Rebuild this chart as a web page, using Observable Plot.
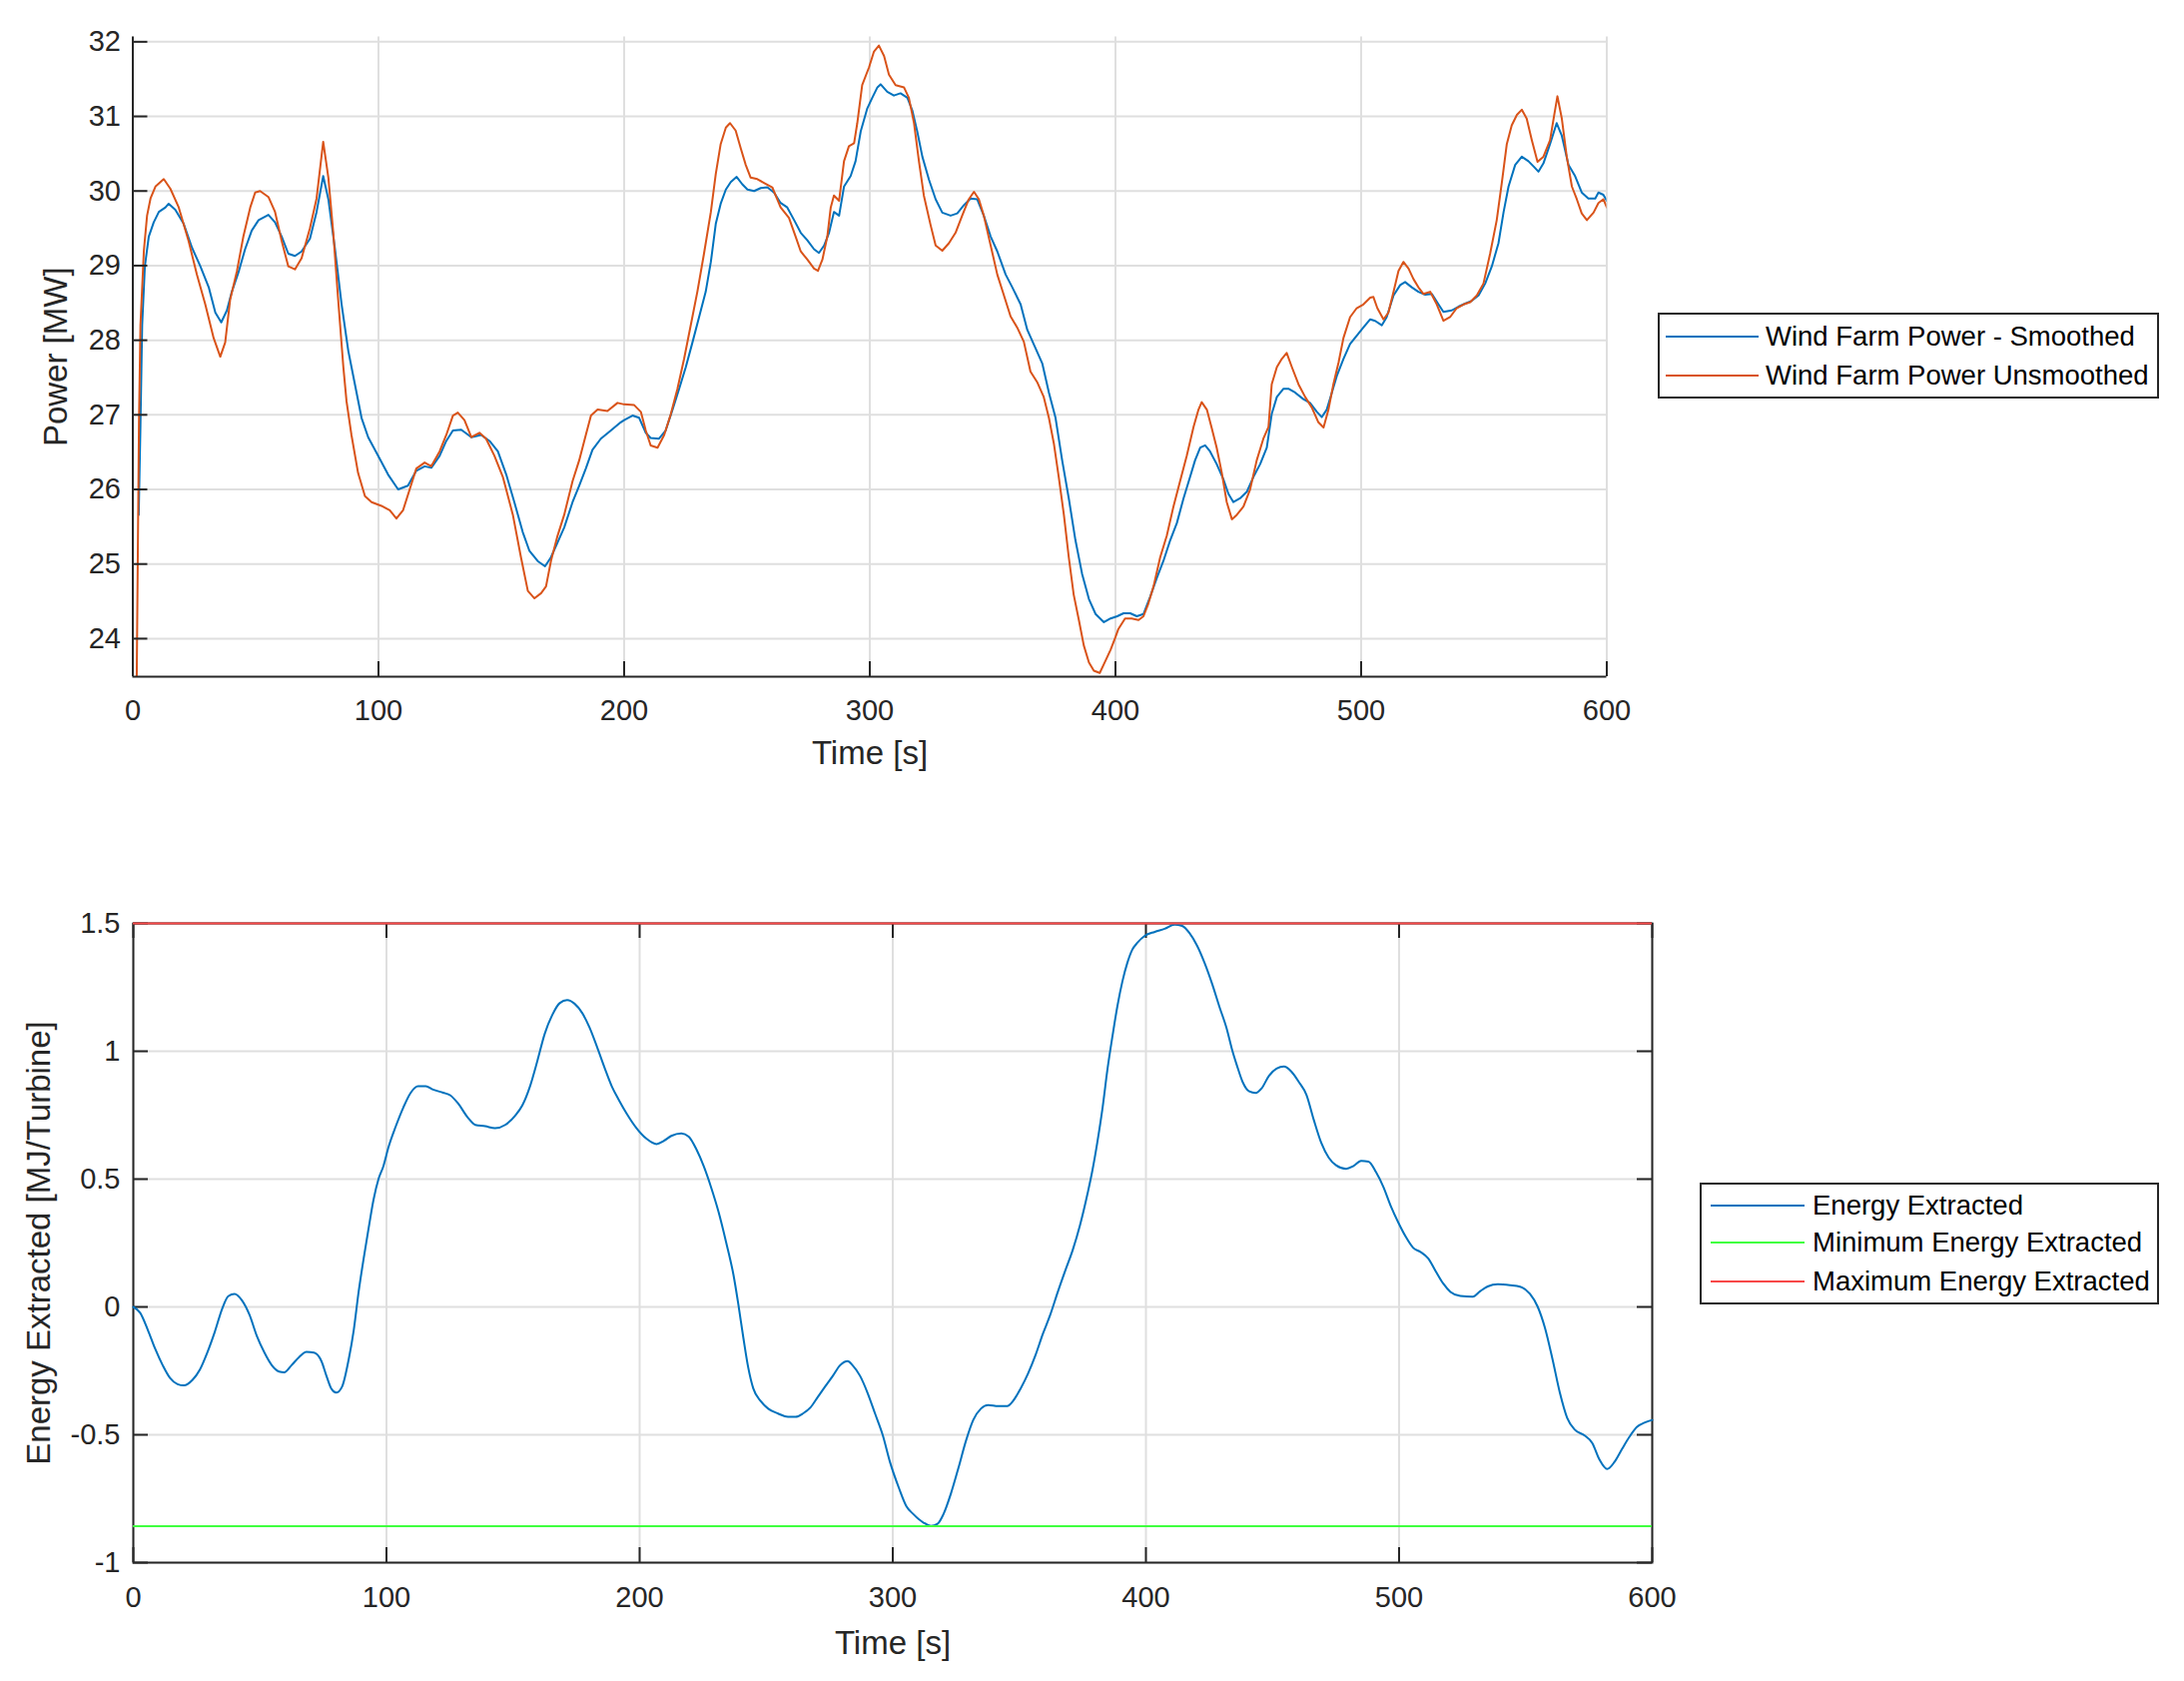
<!DOCTYPE html>
<html><head><meta charset="utf-8">
<script src="https://cdn.jsdelivr.net/npm/d3@7"></script>
<script src="https://cdn.jsdelivr.net/npm/@observablehq/plot@0.6"></script>
<style>
body{margin:0;background:#fff;}
#page{position:relative;width:2187px;height:1683px;background:#fff;font-family:"Liberation Sans",Arial,Helvetica,sans-serif;color:#262626;overflow:hidden;}
#page svg{position:absolute;left:0;}
.legend{position:absolute;border:2px solid #262626;background:#fff;box-sizing:border-box;font-size:27.5px;color:#000;}
.legend .row{position:absolute;left:0;height:32px;line-height:32px;white-space:nowrap;}
.legend .sw{position:absolute;top:15px;height:2px;}
.legend .lbl{position:absolute;top:0;}
</style></head>
<body><div id="page"></div>
<script>
// ---------- data ----------
const timeTicks = [0, 100, 200, 300, 400, 500, 600];
const powerTicks = [24, 25, 26, 27, 28, 29, 30, 31, 32];
const energyTicks = [-1, -0.5, 0, 0.5, 1, 1.5];

const smoothedTime = [2.4,3.1,3.8,4.9,6.5,8.5,10.6,13.3,14.6,17.3,20.7,24.1,27.5,30.9,33.6,36,38.3,40.3,43,45.7,48.4,51.2,55.2,57.9,60.6,63.3,66,68.7,72.1,74.8,77.5,79.6,82.3,85,87.7,90.4,93.1,95.8,99.9,103.9,108,112,115.4,118.8,121.5,124.9,127.6,130.3,133.7,137.8,141.8,145.2,148.6,152,155.3,158.7,161.4,164.8,167.8,170.2,172.9,175.6,179,181.7,184.4,187.1,190.5,194.6,198.6,200,203.4,206.1,208.8,210.8,214.2,216.9,219.7,222.4,225.1,227.8,230.5,233.2,235.3,237.3,239.3,241.4,243.4,245.8,248.1,250.2,252.9,255.6,258.3,261,263.7,266.4,269.2,271.9,274.6,277.3,279.3,281.4,283.4,285.4,287.5,289.5,292.2,294.2,296.3,299,301,303.1,304.4,307.1,309.8,312.5,315.3,317.3,319.3,321.4,324.1,326.8,329.5,332.9,335.6,338.3,341,343.7,346.4,349.2,351.9,355.3,358,361.4,364.1,367.5,370.2,372.9,375.6,378.3,381,383.7,386.4,389.2,391.9,395.3,398,400.7,403.3,406,408.7,411.4,414.1,416.8,419.5,422.3,425,427.7,430.4,432.4,434.5,436.5,438.5,441.2,443.9,446,448,450.7,453.5,456.2,458.9,461.6,463.6,465.7,468.4,470.4,473.1,476.5,479.2,482,484,486,488.1,490.1,492.8,495.5,498.2,500.9,503.7,505.7,508.4,510.4,513.2,515.9,517.9,520.6,523.3,526.1,528.8,531.5,533.5,536.9,539.6,542.3,545.1,547.8,550.5,553.2,555.9,558,560,562.7,565.4,568.1,570.2,572.2,574.2,576.9,579.6,581.7,584.4,587.1,589.8,592.5,595.3,596.6,598.6,600];
const smoothedMW = [25.66,26.85,28.2,28.99,29.39,29.58,29.72,29.78,29.83,29.75,29.56,29.24,28.99,28.71,28.37,28.24,28.4,28.65,28.91,29.22,29.47,29.61,29.68,29.58,29.39,29.16,29.13,29.19,29.36,29.72,30.2,29.89,29.22,28.48,27.86,27.41,26.96,26.7,26.45,26.2,26.0,26.05,26.25,26.31,26.29,26.45,26.65,26.79,26.8,26.7,26.73,26.65,26.51,26.2,25.83,25.43,25.18,25.04,24.97,25.09,25.29,25.49,25.83,26.05,26.28,26.53,26.68,26.79,26.9,26.93,26.99,26.96,26.76,26.69,26.68,26.79,27.07,27.35,27.64,27.97,28.31,28.65,29.05,29.56,29.83,30.02,30.12,30.19,30.09,30.02,30.0,30.04,30.05,29.98,29.84,29.78,29.61,29.44,29.34,29.22,29.17,29.27,29.44,29.72,29.67,30.06,30.2,30.4,30.8,31.11,31.25,31.39,31.43,31.33,31.28,31.31,31.25,31.08,30.8,30.46,30.15,29.89,29.71,29.67,29.7,29.81,29.9,29.89,29.67,29.39,29.19,28.88,28.71,28.48,28.14,27.89,27.69,27.3,26.96,26.39,25.88,25.32,24.87,24.53,24.33,24.22,24.27,24.3,24.34,24.34,24.3,24.33,24.56,24.81,25.04,25.32,25.55,25.88,26.17,26.39,26.56,26.59,26.51,26.34,26.14,25.94,25.83,25.88,25.97,26.17,26.34,26.56,27.01,27.24,27.35,27.35,27.3,27.21,27.16,27.04,26.97,27.07,27.3,27.52,27.75,27.95,28.06,28.17,28.28,28.26,28.2,28.31,28.6,28.74,28.78,28.71,28.65,28.61,28.62,28.48,28.38,28.4,28.45,28.49,28.53,28.6,28.76,28.99,29.3,29.72,30.06,30.35,30.46,30.4,30.33,30.26,30.37,30.63,30.91,30.74,30.35,30.2,29.98,29.9,29.9,29.98,29.95,29.87];

const rawTime = [1.6,2.5,3.1,4.5,5.8,7.2,9.2,12.6,15.3,18.7,22.7,26.1,29.5,32.9,35.6,37.6,39.6,42.4,45,47.8,49.8,51.8,55.2,57.9,60.6,63.3,66,68.7,72.1,74.8,77.5,79.6,81.6,83.6,85.7,87,89,91.7,94.5,97.2,101.2,104.6,107.3,110,112.7,115.4,118.8,121.5,124.9,127.6,130.3,132.3,135,137.8,141.1,143.8,147.2,150.6,154.7,158,160.8,163.5,166.2,168.2,170.2,172.9,175.6,179,181.7,184.4,186.5,189.2,193.2,197.3,200,204.1,206.8,208.8,210.8,213.6,216.3,219,221.7,224.4,227.1,229.8,232.5,235.3,237.3,239.3,241.4,243.1,245.4,247.5,249.5,251.5,254.2,256.9,260.3,263.7,267.1,269.8,271.9,274.6,277.3,278.9,280.7,282.7,284.1,285.4,287.5,289.5,291.5,293.6,294.9,296.9,299.7,301.7,303.7,305.8,307.8,310.5,313.9,315.9,318,320,322,324.7,326.8,329.5,332.2,334.9,337.6,340.3,342.4,344.4,346.4,349.2,351.9,354.6,357.3,360,362.7,365.4,368.1,370.8,372.9,374.9,376.9,379,381,383,385.1,387.1,389.2,391.2,393.6,395.3,398,400,401.2,403.9,406.6,409.4,411.4,413.4,415.5,418.2,420.9,423.6,426.3,429,431.8,433.8,435.1,437.2,439.2,441.2,443.3,445.3,447.4,449.4,452.1,454.8,457.5,460.2,462.3,463.6,465.7,467.7,469.7,471.8,474.5,477.2,479.9,482.6,484.7,486.7,488.7,490.8,492.8,495.5,498.2,500.9,503.7,505,506.6,509.1,511.1,513.2,515.2,517.2,519.3,521.3,523.3,525.4,528.1,530.8,533.5,536.2,538.9,541.7,544.4,547.1,549.8,552.5,555.2,557.3,559.3,561.3,563.4,565.4,567.4,569.5,571.8,574.2,576.9,578.6,579.9,581.7,583.7,585.8,587.8,589.8,591.9,594.6,596.6,598.6,600];
const rawMW = [23.49,26.9,28.2,29.2,29.67,29.9,30.06,30.16,30.03,29.78,29.33,28.88,28.48,28.03,27.78,27.97,28.54,28.93,29.39,29.78,29.98,30.0,29.92,29.72,29.33,28.99,28.95,29.1,29.5,29.9,30.66,30.18,29.44,28.54,27.64,27.18,26.73,26.22,25.91,25.83,25.78,25.72,25.61,25.72,26.0,26.28,26.36,26.31,26.51,26.73,26.99,27.03,26.93,26.7,26.76,26.68,26.45,26.17,25.66,25.09,24.64,24.54,24.61,24.7,25.04,25.38,25.66,26.11,26.39,26.73,26.99,27.07,27.05,27.16,27.14,27.13,27.04,26.79,26.59,26.56,26.73,27.01,27.35,27.75,28.2,28.65,29.16,29.72,30.23,30.63,30.85,30.91,30.81,30.57,30.35,30.18,30.16,30.11,30.05,29.78,29.64,29.39,29.19,29.08,28.96,28.93,29.08,29.39,29.78,29.94,29.87,30.4,30.6,30.64,30.91,31.42,31.66,31.87,31.95,31.81,31.56,31.42,31.39,31.25,30.91,30.4,29.94,29.55,29.27,29.2,29.3,29.44,29.67,29.89,29.99,29.89,29.67,29.27,28.88,28.6,28.32,28.17,27.98,27.58,27.44,27.24,26.96,26.62,26.17,25.66,25.09,24.59,24.25,23.91,23.68,23.57,23.54,23.66,23.85,24.02,24.13,24.27,24.27,24.25,24.3,24.47,24.7,25.09,25.38,25.77,26.11,26.45,26.84,27.07,27.17,27.07,26.82,26.56,26.22,25.83,25.6,25.66,25.77,26.0,26.39,26.68,26.84,27.41,27.64,27.75,27.83,27.64,27.41,27.24,27.1,26.9,26.83,27.07,27.41,27.7,28.03,28.31,28.43,28.48,28.57,28.58,28.43,28.28,28.37,28.65,28.93,29.05,28.96,28.82,28.71,28.62,28.65,28.48,28.26,28.31,28.43,28.48,28.51,28.6,28.76,29.16,29.61,30.12,30.63,30.88,31.02,31.09,30.97,30.68,30.39,30.46,30.68,31.02,31.27,30.97,30.46,30.06,29.89,29.7,29.61,29.71,29.84,29.89,29.78];

const energyTime = [0,2.7,5.7,8.6,11.6,14.5,17.5,20,23.3,26.3,29.2,32.2,35.1,37.5,40,42.9,45.9,48.8,51.8,54.7,57.6,59.6,62.5,65.5,68.4,71.4,74.3,76.3,78.2,80.2,82.5,85.1,87.1,89,91,92.9,94.9,96.9,98.8,100.8,103.7,106.7,109.6,112.5,115.5,118.4,122.4,125.3,128.2,132.2,135.1,139,142.9,146.9,150.8,153.7,156.7,159.6,162.5,165.5,168.4,171.4,174.3,177.3,180.2,183.1,186.1,189,192,194.9,198.8,202.7,206.7,209.6,212.5,216.5,219.4,222.4,225.3,228.2,231.2,234.1,237.1,239,241,242.9,244.9,247.8,250.8,254.7,258.6,261.6,264.5,267.5,270.4,273.3,276.3,279.2,282.2,284.1,287.1,290,293,296,299,302.5,305.3,308.2,312.2,315.1,317.7,320,323,325.9,328.9,331.8,334.8,337.7,341.6,345.2,347.5,350.5,353.4,356.4,359.3,362.2,365.2,368.1,371.1,374,377,378.9,380.9,382.9,384.8,386.8,388.7,390.7,392.7,394.6,396.6,399.5,403.5,407.4,411.3,414.3,417.2,420.2,423.1,426.1,429,432,433.9,435.9,438.2,440.8,443.3,445.7,448.6,451.6,454.5,457.5,460.4,463.4,466.3,469.3,472.2,475.1,479.1,482,485,487.9,490.9,493.8,496.7,499.7,502.6,505.6,508.5,511.5,514.4,517.4,520.3,524.2,529.1,532.1,535,539,543.9,547.8,551.7,554.7,557.6,560.6,563.5,566.4,569.4,573.3,576.3,579.2,582.2,585.1,588,591,593.9,596.9,600];
const energyMJ = [0,-0.023,-0.089,-0.163,-0.228,-0.278,-0.302,-0.307,-0.286,-0.245,-0.179,-0.097,-0.007,0.042,0.051,0.026,-0.031,-0.114,-0.179,-0.228,-0.253,-0.256,-0.228,-0.196,-0.176,-0.179,-0.212,-0.27,-0.319,-0.335,-0.311,-0.204,-0.089,0.059,0.19,0.305,0.42,0.502,0.551,0.625,0.707,0.781,0.838,0.863,0.863,0.85,0.838,0.827,0.797,0.74,0.712,0.707,0.699,0.712,0.748,0.789,0.863,0.962,1.068,1.142,1.188,1.2,1.186,1.15,1.093,1.019,0.937,0.863,0.806,0.756,0.699,0.658,0.637,0.65,0.669,0.679,0.666,0.617,0.551,0.469,0.371,0.256,0.124,0.01,-0.122,-0.237,-0.319,-0.368,-0.398,-0.417,-0.43,-0.43,-0.417,-0.393,-0.352,-0.311,-0.27,-0.228,-0.212,-0.228,-0.27,-0.335,-0.417,-0.5,-0.61,-0.71,-0.778,-0.811,-0.844,-0.856,-0.848,-0.811,-0.729,-0.631,-0.524,-0.442,-0.398,-0.384,-0.388,-0.388,-0.368,-0.319,-0.261,-0.188,-0.105,-0.031,0.059,0.141,0.223,0.321,0.446,0.536,0.65,0.781,0.929,1.06,1.175,1.273,1.347,1.397,1.424,1.451,1.467,1.479,1.495,1.49,1.462,1.413,1.347,1.265,1.175,1.085,1.011,0.946,0.88,0.843,0.837,0.855,0.904,0.932,0.94,0.92,0.88,0.83,0.732,0.641,0.584,0.554,0.54,0.551,0.571,0.568,0.527,0.469,0.395,0.33,0.275,0.231,0.215,0.19,0.141,0.092,0.059,0.043,0.04,0.062,0.08,0.089,0.085,0.079,0.051,0.002,-0.081,-0.204,-0.335,-0.434,-0.48,-0.503,-0.532,-0.598,-0.634,-0.606,-0.557,-0.508,-0.47,-0.453,-0.442];

const minEnergy = [-0.857];
const maxEnergy = [1.5];

const powerSeriesNames = ["Wind Farm Power - Smoothed", "Wind Farm Power Unsmoothed"];
const energySeriesNames = ["Energy Extracted", "Minimum Energy Extracted", "Maximum Energy Extracted"];

// ---------- styling ----------
const AX = "#262626", GRID = "#dfdfdf";
const BLUE = "#0072BD", ORANGE = "#D95319", GREEN = "#40ff40", RED = "#f84848";
const W = 2187;
const fontFamily = '"Liberation Sans", Arial, Helvetica, sans-serif';
const fmt = d => String(d);

const smoothed = smoothedTime.map((t, i) => ({t, v: smoothedMW[i]}));
const raw = rawTime.map((t, i) => ({t, v: rawMW[i]}));
const energy = energyTime.map((t, i) => ({t, v: energyMJ[i]}));

// ---------- top plot ----------
const t1 = {left: 132.5, right: 1608.5, top: 36.5, bottom: 677, h: 840};
const fw1 = t1.right - t1.left, fh1 = t1.bottom - t1.top;
const yDom1 = [23.49, 32.065];
const plot1 = Plot.plot({
  width: W, height: t1.h,
  marginLeft: t1.left, marginRight: W - t1.right, marginTop: t1.top, marginBottom: t1.h - t1.bottom,
  x: {domain: [0, 600]},
  y: {domain: yDom1},
  style: {fontFamily, fontSize: "29px", color: AX, background: "transparent"},
  marks: [
    Plot.gridX(timeTicks, {stroke: GRID, strokeOpacity: 1, strokeWidth: 2}),
    Plot.gridY(powerTicks, {stroke: GRID, strokeOpacity: 1, strokeWidth: 2}),
    Plot.line(smoothed, {x: "t", y: "v", stroke: BLUE, strokeWidth: 2, clip: true}),
    Plot.line(raw, {x: "t", y: "v", stroke: ORANGE, strokeWidth: 2, clip: true}),
    Plot.ruleX(timeTicks, {stroke: AX, strokeWidth: 2, insetTop: fh1 - 15}),
    Plot.ruleY(powerTicks, {stroke: AX, strokeWidth: 2, insetRight: fw1 - 15}),
    Plot.ruleX([0], {stroke: AX, strokeWidth: 2}),
    Plot.ruleY([yDom1[0]], {stroke: AX, strokeWidth: 2}),
    Plot.axisX(timeTicks, {tickSize: 0, tickPadding: 23, tickFormat: fmt, label: null, fontSize: 29}),
    Plot.axisY(powerTicks, {tickSize: 0, tickPadding: 12, tickFormat: fmt, label: null, fontSize: 29}),
    Plot.text(["Time [s]"], {frameAnchor: "bottom", textAnchor: "middle", dy: 87, lineAnchor: "bottom", fontSize: 33, fill: AX}),
    Plot.text(["Power [MW]"], {frameAnchor: "left", textAnchor: "middle", lineAnchor: "middle", rotate: -90, dx: -(t1.left - 56), fontSize: 33, fill: AX})
  ]
});
plot1.style.top = "0px";

// ---------- bottom plot ----------
const t2 = {left: 133, right: 1654, top: 84, bottom: 724, h: 843, offset: 840};
const fw2 = t2.right - t2.left, fh2 = t2.bottom - t2.top;
const plot2 = Plot.plot({
  width: W, height: t2.h,
  marginLeft: t2.left, marginRight: W - t2.right, marginTop: t2.top, marginBottom: t2.h - t2.bottom,
  x: {domain: [0, 600]},
  y: {domain: [-1, 1.5]},
  style: {fontFamily, fontSize: "29px", color: AX, background: "transparent"},
  marks: [
    Plot.gridX(timeTicks, {stroke: GRID, strokeOpacity: 1, strokeWidth: 2}),
    Plot.gridY(energyTicks, {stroke: GRID, strokeOpacity: 1, strokeWidth: 2}),
    Plot.frame({stroke: AX, strokeWidth: 2}),
    Plot.ruleX(timeTicks, {stroke: AX, strokeWidth: 2, insetTop: fh2 - 15}),
    Plot.ruleX(timeTicks, {stroke: AX, strokeWidth: 2, insetBottom: fh2 - 15}),
    Plot.ruleY(energyTicks, {stroke: AX, strokeWidth: 2, insetRight: fw2 - 15}),
    Plot.ruleY(energyTicks, {stroke: AX, strokeWidth: 2, insetLeft: fw2 - 15}),
    Plot.line(energy, {x: "t", y: "v", stroke: BLUE, strokeWidth: 2, curve: "monotone-x"}),
    Plot.ruleY(minEnergy, {stroke: GREEN, strokeWidth: 2}),
    Plot.ruleY(maxEnergy, {stroke: RED, strokeWidth: 2}),
    Plot.axisX(timeTicks, {tickSize: 0, tickPadding: 24, tickFormat: fmt, label: null, fontSize: 29}),
    Plot.axisY(energyTicks, {tickSize: 0, tickPadding: 13, tickFormat: fmt, label: null, fontSize: 29}),
    Plot.text(["Time [s]"], {frameAnchor: "bottom", textAnchor: "middle", dy: 91, lineAnchor: "bottom", fontSize: 33, fill: AX}),
    Plot.text(["Energy Extracted [MJ/Turbine]"], {frameAnchor: "left", textAnchor: "middle", lineAnchor: "middle", rotate: -90, dx: -(t2.left - 38.6), fontSize: 33, fill: AX})
  ]
});
plot2.style.top = t2.offset + "px";

const page = document.getElementById("page");
page.appendChild(plot1);
page.appendChild(plot2);

// ---------- legends ----------
function legend(box, names, colors, rowCenters, swLeft, swWidth, textLeft) {
  const div = document.createElement("div");
  div.className = "legend";
  Object.assign(div.style, {left: box.x + "px", top: box.y + "px", width: box.w + "px", height: box.h + "px"});
  names.forEach((name, i) => {
    const row = document.createElement("div");
    row.className = "row";
    row.style.top = (rowCenters[i] - box.y - 2 - 16) + "px";
    row.style.width = (box.w - 4) + "px";
    const sw = document.createElement("div");
    sw.className = "sw";
    Object.assign(sw.style, {left: (swLeft - box.x - 2) + "px", width: swWidth + "px", background: colors[i]});
    const lbl = document.createElement("span");
    lbl.className = "lbl";
    lbl.style.left = (textLeft - box.x - 2) + "px";
    lbl.textContent = name;
    row.appendChild(sw); row.appendChild(lbl);
    div.appendChild(row);
  });
  page.appendChild(div);
}
legend({x: 1660, y: 313, w: 502, h: 86}, powerSeriesNames, [BLUE, ORANGE], [337, 376], 1668, 93, 1768);
legend({x: 1702, y: 1184, w: 460, h: 122}, energySeriesNames, [BLUE, GREEN, RED], [1207, 1244, 1283], 1713, 94, 1815);
</script>
</body></html>
